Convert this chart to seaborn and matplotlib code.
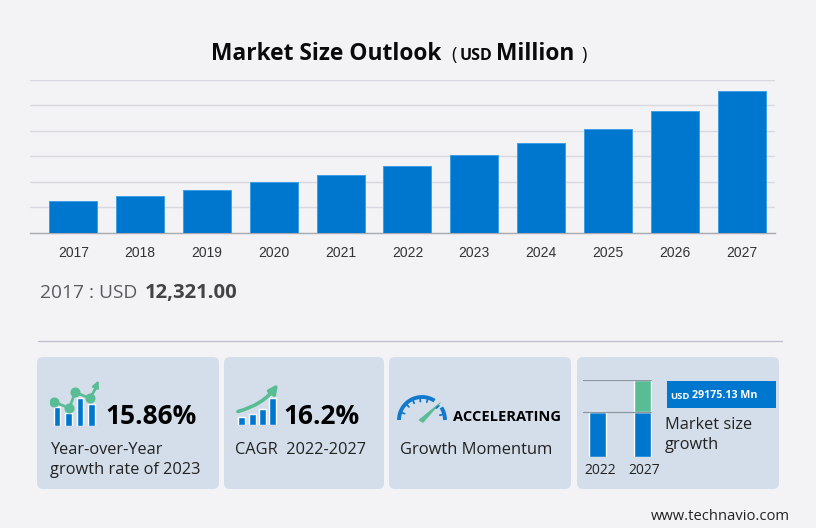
import matplotlib
matplotlib.use("Agg")
import matplotlib.pyplot as plt
from matplotlib.patches import Arc, FancyArrowPatch, FancyBboxPatch, Rectangle
import numpy as np
import pandas as pd
import seaborn as sns

# main chart values, USD million
years = ["2017", "2018", "2019", "2020", "2021", "2022", "2023", "2024", "2025", "2026", "2027"]
market_size = [12321, 14500, 16900, 19850, 22750, 26280, 30450, 35100, 40800, 47550, 55455]

# small icons and the mini chart in the last card
icon1_bars = [19.3, 13.3, 28.3, 22]
icon1_line_x = [-0.26, 1.08, 1.58, 2.9, 3.4]
icon1_line_y = [24.3, 17.7, 33.7, 27.7, 38]
icon2_bars = [8, 10.4, 15.7, 27]
mini_years = ["2022", "2027"]
mini_base = [44.4, 44.4]
mini_growth = [0, 32.3]

BG = "#f3f3f6"
CARD = "#d3deea"
BLUE = "#0077cf"
EDGE = "#3d9fe6"
GREEN = "#58bc94"
GAUGE = "#1279cc"
W, H = 816, 528

sns.set_theme(style="white", rc={"figure.facecolor": BG, "axes.facecolor": "none"})
plt.rcParams["font.family"] = ["Open Sans", "DejaVu Sans"]

fig = plt.figure(figsize=(W / 100, H / 100), dpi=100)


def px_axes(x0, y0, x1, y1, z=3):
    a = fig.add_axes([x0 / W, 1 - y1 / H, (x1 - x0) / W, (y1 - y0) / H], zorder=z)
    a.set_facecolor("none")
    return a


# overlay in pixel coordinates for cards and text
bg = px_axes(0, 0, W, H, z=1)
bg.set_xlim(0, W)
bg.set_ylim(H, 0)
bg.axis("off")
top = px_axes(0, 0, W, H, z=5)
top.set_xlim(0, W)
top.set_ylim(H, 0)
top.axis("off")

for x0, x1 in [(37, 219), (224, 384), (389, 571), (577, 779)]:
    bg.add_patch(FancyBboxPatch((x0 + 5, 362), x1 - x0 - 10, 122,
                                boxstyle="round,pad=5,rounding_size=6", fc=CARD, ec="none"))
bg.plot([37.5, 782], [340.5, 340.5], color="#bdbdc9", lw=0.9)

# main bars
ax = px_axes(30, 79.7, 775, 232.8, z=2)
df = pd.DataFrame({"year": years, "size": market_size})
sns.barplot(df, x="year", y="size", color=BLUE, saturation=1, width=0.718,
            edgecolor=EDGE, linewidth=0.7, ax=ax, zorder=3)
ax.set_xlim(-0.648, 10.5)
ax.set_ylim(0, 60000)
ax.set_yticks(range(0, 60001, 10000))
ax.set_yticklabels([])
ax.yaxis.grid(True, color="#d8d9de", lw=1.0)
ax.set_axisbelow(True)
ax.set_xlabel("")
ax.set_ylabel("")
ax.tick_params(axis="x", length=0, pad=9.2, labelsize=10, labelcolor="#333333")
ax.tick_params(axis="y", length=0)
for lab in ax.get_xticklabels():
    lab.set_family("Liberation Sans")
sns.despine(ax=ax, left=True, top=True, right=True)
ax.spines["bottom"].set_color("#a9abb0")
ax.spines["bottom"].set_linewidth(1.0)

# title made of separate pieces
kw = dict(va="center", ha="left", color="#0a0a0a")
top.text(211, 53.5, "Market Size Outlook", fontsize=16.35, fontweight="bold", **kw)
top.text(451, 55, "(", fontsize=13, **kw)
top.text(460, 55.5, "USD", fontsize=11.5, fontweight="bold", **kw)
top.text(496, 53.5, "Million", fontsize=16.35, fontweight="bold", **kw)
top.text(581, 55, ")", fontsize=13, **kw)

top.text(40, 293.5, "2017 : USD", fontsize=13.8, color="#595b5e", va="center")
top.text(145, 293, "12,321.00", fontsize=14.6, fontweight="bold", color="#444444", va="center")

# card texts
TXT = "#222222"
top.text(105, 417, "15.86%", fontsize=19, fontweight="bold", color="black", va="center")
top.text(50, 450, "Year-over-Year", fontsize=11.8, color=TXT, va="center")
top.text(50, 470, "growth rate of 2023", fontsize=11.8, color=TXT, va="center")
top.text(283, 417, "16.2%", fontsize=19, fontweight="bold", color="black", va="center")
top.text(235, 450, "CAGR  2022-2027", fontsize=11.8, color=TXT, va="center")
top.text(453, 417, "ACCELERATING", fontsize=10.5, fontweight="bold", color="black", va="center")
top.text(400, 450, "Growth Momentum", fontsize=11.85, color=TXT, va="center")
top.text(665, 425, "Market size", fontsize=11.8, color=TXT, va="center")
top.text(665, 445, "growth", fontsize=11.8, color=TXT, va="center")
top.text(600, 470.5, mini_years[0], fontsize=10, color=TXT, va="center", ha="center")
top.text(644, 470.5, mini_years[1], fontsize=10, color=TXT, va="center", ha="center")

# blue label in the last card
top.add_patch(Rectangle((667, 381), 109, 26.7, fc=BLUE, ec="none"))
top.text(670, 396.5, "USD", fontsize=6.8, fontweight="bold", color="white", va="center")
top.text(692, 396, "29175.13 Mn", fontsize=7.7, fontweight="bold", color="white", va="center")

# icon 1, bars and line with arrow
i1 = px_axes(50, 378, 100, 426)
sns.barplot(x=list(range(4)), y=icon1_bars, color=BLUE, saturation=1, width=0.58, ax=i1)
sns.lineplot(x=icon1_line_x, y=icon1_line_y, color=GREEN, lw=1.9, ax=i1, marker="o",
             markersize=6.5, markeredgecolor=GREEN, markevery=[0, 1, 2, 3],
             errorbar=None, sort=False)
i1.set_xlim(-0.614, 3.77)
i1.set_ylim(0, 48)
i1.axis("off")
top.add_patch(FancyArrowPatch((94.5, 390), (98.5, 380.5), arrowstyle="-|>", mutation_scale=10,
                              color=GREEN, lw=1.5, shrinkA=0, shrinkB=0))

# icon 2, rising bars and curved arrow
i2 = px_axes(237, 380, 278, 424.7)
sns.barplot(x=list(range(4)), y=icon2_bars, color=BLUE, saturation=1, width=0.68, ax=i2)
i2.set_xlim(-0.45, 3.49)
i2.set_ylim(0, 44.7)
i2.axis("off")
top.add_patch(FancyArrowPatch((238, 411.5), (278, 384), connectionstyle="arc3,rad=0.18",
                              arrowstyle="-|>", mutation_scale=13, color=GREEN, lw=2.6,
                              shrinkA=0, shrinkB=0))

# icon 3, gauge, y is inverted in this overlay so the arc runs 180 to 360
cx, cy = 422, 420
top.add_patch(Arc((cx, cy), 46, 46, theta1=180, theta2=303, color=GAUGE, lw=2.8))
top.add_patch(Arc((cx, cy), 46, 46, theta1=327, theta2=360, color=GAUGE, lw=2.8))
for deg in [15, 40, 75, 95, 115, 135, 160]:
    r = np.deg2rad(deg)
    top.plot([cx + 22 * np.cos(r), cx + 18.5 * np.cos(r)],
             [cy - 22 * np.sin(r), cy - 18.5 * np.sin(r)], color=GAUGE, lw=1.3)
top.fill([419, 423, 440.5], [420, 422.5, 402.5], color=GREEN, lw=0.5)

# mini chart
mini = px_axes(583, 380, 652, 456.7)
sns.barplot(x=mini_years, y=mini_base, color=BLUE, saturation=1, width=0.38, ax=mini, zorder=3)
sns.barplot(x=mini_years, y=mini_growth, bottom=mini_base, color=GREEN, saturation=1, width=0.38,
            ax=mini, zorder=3)
mini.set_xlim(-0.329, 1.204)
mini.set_ylim(0, 76.7)
mini.axhline(44.4, color="#8e979f", lw=0.9, zorder=4)
mini.axhline(76.7, color="#8e979f", lw=1.6, zorder=4)
mini.axis("off")

top.text(790, 517, "www.technavio.com", fontsize=10.6, color=TXT, ha="right", va="center")

fig.savefig("out.png", dpi=100, facecolor=BG)
